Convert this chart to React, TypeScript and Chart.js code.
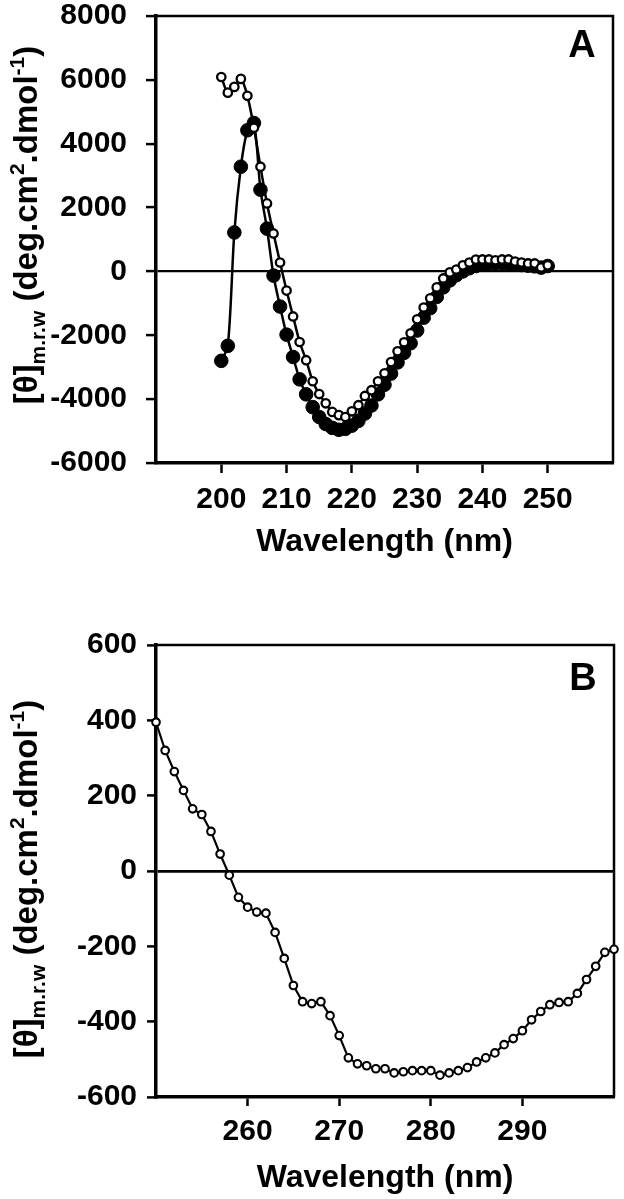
import React, { useEffect, useRef } from 'react';
import { Chart, registerables } from 'chart.js';

Chart.register(...registerables);

const FONT = "'Liberation Sans', Arial, Helvetica, sans-serif";

// ---------- Panel A data ----------
const wavelengthA = [
  200, 201, 202, 203, 204, 205, 206, 207, 208, 209,
  210, 211, 212, 213, 214, 215, 216, 217, 218, 219,
  220, 221, 222, 223, 224, 225, 226, 227, 228, 229,
  230, 231, 232, 233, 234, 235, 236, 237, 238, 239,
  240, 241, 242, 243, 244, 245, 246, 247, 248, 249, 250,
];
const filledA = [
  -2800, -2330, 1220, 3280, 4420, 4650, 2560, 1340, -130, -1100,
  -1980, -2680, -3380, -3850, -4250, -4560, -4780, -4900, -4960, -4930,
  -4830, -4680, -4450, -4200, -3850, -3550, -3200, -2850, -2550, -2250,
  -1850, -1450, -1150, -800, -500, -280, -120, 0, 100, 170,
  220, 250, 260, 260, 250, 230, 200, 180, 160, 120, 170,
];
const openA = [
  6090, 5600, 5780, 6030, 5500, 4500, 3280, 2130, 1190, 280,
  -600, -1410, -2210, -2780, -3440, -3840, -4130, -4400, -4500, -4560,
  -4380, -4190, -3900, -3720, -3440, -3190, -2840, -2500, -2220, -1940,
  -1500, -1130, -840, -500, -220, -30, 60, 190, 280, 370,
  375, 375, 350, 375, 375, 310, 280, 250, 250, 125, 190,
];
const xTicksA = [200, 210, 220, 230, 240, 250];
const yTicksA = [-6000, -4000, -2000, 0, 2000, 4000, 6000, 8000];

// ---------- Panel B data ----------
const wavelengthB = [
  250, 251, 252, 253, 254, 255, 256, 257, 258, 259,
  260, 261, 262, 263, 264, 265, 266, 267, 268, 269,
  270, 271, 272, 273, 274, 275, 276, 277, 278, 279,
  280, 281, 282, 283, 284, 285, 286, 287, 288, 289,
  290, 291, 292, 293, 294, 295, 296, 297, 298, 299, 300,
];
const openB = [
  395, 320, 264, 214, 165, 150, 105, 45, -11, -70,
  -96, -109, -112, -163, -232, -304, -347, -352, -347, -384,
  -437, -496, -512, -517, -525, -525, -536, -533, -530, -530,
  -530, -542, -536, -530, -522, -507, -496, -483, -461, -445,
  -424, -395, -373, -355, -349, -347, -325, -288, -253, -216, -208,
];
const xTicksB = [260, 270, 280, 290];
const yTicksB = [-600, -400, -200, 0, 200, 400, 600];

const xTitle = 'Wavelength (nm)';
const yTitleSegments = [
  { t: '[θ]', sub: 0 },
  { t: 'm.r.w', sub: 1 },
  { t: ' (deg.cm', sub: 0 },
  { t: '2', sub: -1 },
  { t: '.dmol', sub: 0 },
  { t: '-1', sub: -1 },
  { t: ')', sub: 0 },
];

function drawYTitle(ctx: CanvasRenderingContext2D, cx: number, cy: number) {
  const big = 33;
  const small = 21;
  ctx.save();
  ctx.translate(cx, cy);
  ctx.rotate(-Math.PI / 2);
  ctx.textAlign = 'left';
  ctx.textBaseline = 'alphabetic';
  ctx.fillStyle = '#000';
  const widths = yTitleSegments.map((s) => {
    ctx.font = `bold ${s.sub === 0 ? big : small}px ${FONT}`;
    return ctx.measureText(s.t).width;
  });
  const total = widths.reduce((a, b) => a + b, 0);
  let x = -total / 2;
  yTitleSegments.forEach((s, i) => {
    ctx.font = `bold ${s.sub === 0 ? big : small}px ${FONT}`;
    const dy = s.sub === 1 ? 8 : s.sub === -1 ? -13 : 0;
    ctx.fillText(s.t, x, dy);
    x += widths[i];
  });
  ctx.restore();
}

function framePlugin(letter: string, letterX: number, letterY: number, titleX: number, titleY: number) {
  return {
    id: 'frame' + letter,
    beforeDatasetsDraw(chart: any) {
      const { ctx, chartArea: a } = chart;
      ctx.save();
      ctx.strokeStyle = '#000';
      ctx.lineWidth = 2.5;
      ctx.beginPath();
      ctx.moveTo(a.left, a.top);
      ctx.lineTo(a.right, a.top);
      ctx.lineTo(a.right, a.bottom);
      ctx.stroke();
      ctx.fillStyle = '#000';
      ctx.font = `bold 38px ${FONT}`;
      ctx.textAlign = 'center';
      ctx.textBaseline = 'middle';
      ctx.fillText(letter, letterX, letterY);
      ctx.restore();
      drawYTitle(ctx, titleX, titleY);
    },
  };
}

const tickFont = { family: FONT, size: 30, weight: 'bold' as const };
const titleFont = { family: FONT, size: 32, weight: 'bold' as const };

function makeOptions(p: {
  xMin: number; xMax: number; xTicks: number[];
  yMin: number; yMax: number; yTicks: number[];
  padTop: number; padRight: number; xHeight: number; yWidth: number;
  xTickLen: number; xPad: number; yTickLen: number; yPad: number;
  titlePadBottom: number; zeroWidth: number;
}): any {
  return {
    responsive: false,
    animation: false,
    events: [],
    layout: { padding: { top: p.padTop, right: p.padRight, left: 0, bottom: 0 } },
    plugins: { legend: { display: false }, tooltip: { enabled: false } },
    scales: {
      x: {
        type: 'linear',
        min: p.xMin,
        max: p.xMax,
        afterBuildTicks: (s: any) => { s.ticks = p.xTicks.map((v) => ({ value: v })); },
        afterFit: (s: any) => { s.height = p.xHeight; s.paddingLeft = 0; s.paddingRight = 0; },
        grid: { drawOnChartArea: false, tickLength: p.xTickLen, tickColor: '#000', tickWidth: 2.5 },
        border: { display: true, color: '#000', width: 3.5 },
        ticks: { font: tickFont, color: '#000', padding: p.xPad, maxRotation: 0, autoSkip: false, callback: (v: any) => String(v) },
        title: { display: true, text: xTitle, font: titleFont, color: '#000', padding: { top: 0, bottom: p.titlePadBottom } },
      },
      y: {
        type: 'linear',
        min: p.yMin,
        max: p.yMax,
        afterBuildTicks: (s: any) => { s.ticks = p.yTicks.map((v) => ({ value: v })); },
        afterFit: (s: any) => { s.width = p.yWidth; s.paddingTop = 0; s.paddingBottom = 0; },
        grid: {
          color: (c: any) => (c.tick && c.tick.value === 0 ? '#000' : 'rgba(0,0,0,0)'),
          lineWidth: p.zeroWidth,
          tickLength: p.yTickLen,
          tickColor: '#000',
          tickWidth: 2.5,
        },
        border: { display: true, color: '#000', width: 3.5 },
        ticks: { font: tickFont, color: '#000', padding: p.yPad, autoSkip: false, callback: (v: any) => String(v) },
      },
    },
  };
}

export default function App() {
  const refA = useRef<HTMLCanvasElement | null>(null);
  const refB = useRef<HTMLCanvasElement | null>(null);

  useEffect(() => {
    if (!refA.current || !refB.current) return;
    const chartA = new Chart(refA.current, {
      type: 'line',
      data: {
        datasets: [
          {
            label: 'open',
            data: wavelengthA.map((x, i) => ({ x, y: openA[i] })),
            borderColor: '#000',
            borderWidth: 2.5,
            pointRadius: 4.2,
            pointBorderWidth: 2.3,
            pointBackgroundColor: '#fff',
            pointBorderColor: '#000',
            tension: 0.3,
            order: 0,
            clip: false,
            fill: false,
          } as any,
          {
            label: 'filled',
            data: wavelengthA.map((x, i) => ({ x, y: filledA[i] })),
            borderColor: '#000',
            borderWidth: 2.5,
            pointRadius: 6.8,
            pointBorderWidth: 1,
            pointBackgroundColor: '#000',
            pointBorderColor: '#000',
            tension: 0.3,
            order: 1,
            clip: false,
            fill: false,
          } as any,
        ],
      },
      options: makeOptions({
        xMin: 190, xMax: 260, xTicks: xTicksA,
        yMin: -6000, yMax: 8000, yTicks: yTicksA,
        padTop: 16, padRight: 11, xHeight: 112, yWidth: 156,
        xTickLen: 10, xPad: 9, yTickLen: 10, yPad: 19,
        titlePadBottom: 14, zeroWidth: 2.2,
      }),
      plugins: [framePlugin('A', 582, 47, 37, 225)],
    });

    const chartB = new Chart(refB.current, {
      type: 'line',
      data: {
        datasets: [
          {
            label: 'B',
            data: wavelengthB.map((x, i) => ({ x, y: openB[i] })),
            borderColor: '#000',
            borderWidth: 2.2,
            pointRadius: 3.8,
            pointBorderWidth: 2.1,
            pointBackgroundColor: '#fff',
            pointBorderColor: '#000',
            tension: 0,
            clip: false,
            fill: false,
          } as any,
        ],
      },
      options: makeOptions({
        xMin: 250, xMax: 300, xTicks: xTicksB,
        yMin: -600, yMax: 600, yTicks: yTicksB,
        padTop: 70, padRight: 10, xHeight: 102, yWidth: 156,
        xTickLen: 9, xPad: 8, yTickLen: 9, yPad: 10,
        titlePadBottom: 2, zeroWidth: 2.8,
      }),
      plugins: [framePlugin('B', 583, 105, 37, 304)],
    });

    return () => {
      chartA.destroy();
      chartB.destroy();
    };
  }, []);

  return (
    <div style={{ position: 'absolute', left: 0, top: 0, width: 624, height: 1199, background: '#fff' }}>
      <canvas ref={refA} width={624} height={575} style={{ position: 'absolute', left: 0, top: 0, width: 624, height: 575 }} />
      <canvas ref={refB} width={624} height={624} style={{ position: 'absolute', left: 0, top: 575, width: 624, height: 624 }} />
    </div>
  );
}
